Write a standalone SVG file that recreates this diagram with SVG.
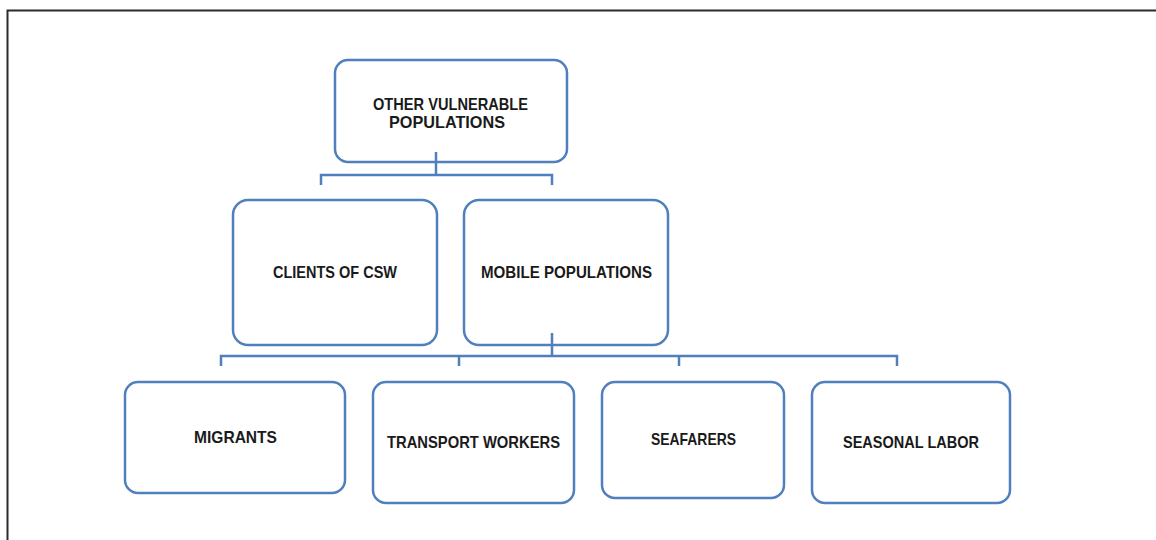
<svg xmlns="http://www.w3.org/2000/svg" width="1156" height="540" viewBox="0 0 1156 540">
<style>
.box{fill:#fff;stroke:#4f7fbc;stroke-width:2.5}
.lbl{font-family:"Liberation Sans",Arial,sans-serif;font-weight:bold;font-size:16.5px;fill:#1a1a1a;text-anchor:middle}
.con{fill:none;stroke:#4f7fbc;stroke-width:2.5}
</style>
<rect width="1156" height="540" fill="#fff"/>
<path d="M1156,10.5 H7.5 V540" fill="none" stroke="#2b2b2b" stroke-width="2"/>
<g id="n-top"><rect class="box" x="335" y="60" width="232" height="102" rx="13"/>
<text class="lbl" x="450.5" y="110" textLength="155" lengthAdjust="spacingAndGlyphs">OTHER VULNERABLE</text>
<text class="lbl" x="447" y="128" textLength="116" lengthAdjust="spacingAndGlyphs">POPULATIONS</text></g>
<g id="n-clients"><rect class="box" x="233" y="200" width="204" height="145" rx="15"/>
<text class="lbl" x="335" y="278" textLength="124" lengthAdjust="spacingAndGlyphs">CLIENTS OF CSW</text></g>
<g id="n-mobile"><rect class="box" x="464" y="200" width="204" height="145" rx="15"/>
<text class="lbl" x="566.5" y="278" textLength="171" lengthAdjust="spacingAndGlyphs">MOBILE POPULATIONS</text></g>
<g id="n-migrants"><rect class="box" x="125" y="382" width="220" height="111" rx="13"/>
<text class="lbl" x="235.5" y="443" textLength="83" lengthAdjust="spacingAndGlyphs">MIGRANTS</text></g>
<g id="n-transport"><rect class="box" x="373" y="382" width="201" height="121" rx="13"/>
<text class="lbl" x="473.5" y="448" textLength="173" lengthAdjust="spacingAndGlyphs">TRANSPORT WORKERS</text></g>
<g id="n-seafarers"><rect class="box" x="602" y="382" width="182" height="116" rx="13"/>
<text class="lbl" x="693.5" y="445" textLength="85" lengthAdjust="spacingAndGlyphs">SEAFARERS</text></g>
<g id="n-seasonal"><rect class="box" x="812" y="382" width="198" height="121" rx="13"/>
<text class="lbl" x="911" y="448" textLength="136" lengthAdjust="spacingAndGlyphs">SEASONAL LABOR</text></g>
<g id="connectors">
<path class="con" d="M436,152 V175 M321,185 V175 H552 V185"/>
<path class="con" d="M552,333 V356 M221,366 V356 H897 V366 M459,356 V366 M679,356 V366"/>
</g>
</svg>
